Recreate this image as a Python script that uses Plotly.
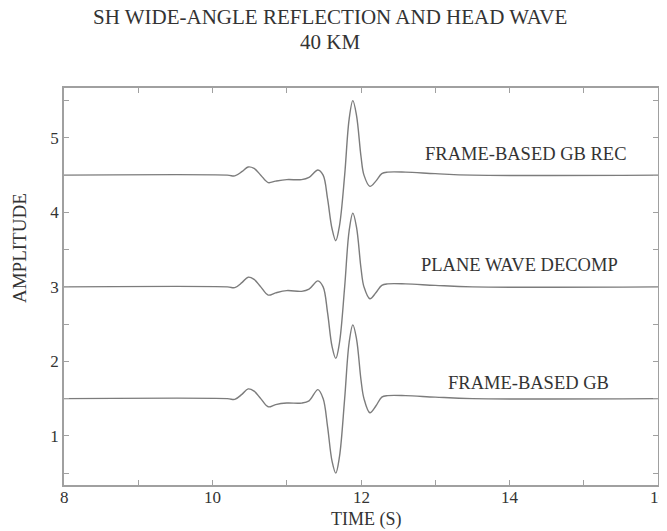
import plotly.graph_objects as go

# ---- data ----
time_s = [8.0, 10.2, 10.3, 10.4, 10.48, 10.56, 10.65, 10.75, 10.85, 11.0, 11.2, 11.3,
          11.42, 11.49, 11.55, 11.61, 11.66, 11.71, 11.78, 11.84, 11.89, 11.94, 12.0,
          12.04, 12.12, 12.2, 12.28, 12.36, 12.6, 13.0, 13.5, 16.0]

# amplitudes relative to each trace's baseline
gb_rec = [0.0, 0.0, -0.01, 0.05, 0.11, 0.09, 0.0, -0.10, -0.08, -0.06, -0.06, -0.03,
          0.07, 0.0, -0.32, -0.72, -0.88, -0.68, 0.0, 0.75, 1.0, 0.8, 0.25,
          0.0, -0.15, -0.08, 0.02, 0.04, 0.04, 0.02, 0.0, 0.0]
pw_decomp = [0.0, 0.0, -0.01, 0.06, 0.13, 0.10, 0.0, -0.11, -0.08, -0.05, -0.06, -0.03,
             0.08, 0.0, -0.35, -0.80, -0.96, -0.75, 0.0, 0.75, 0.99, 0.8, 0.25,
             0.0, -0.16, -0.08, 0.02, 0.04, 0.04, 0.02, 0.0, 0.0]
gb = [0.0, 0.0, -0.01, 0.06, 0.13, 0.10, 0.0, -0.11, -0.08, -0.06, -0.06, -0.03,
      0.12, 0.0, -0.38, -0.84, -1.0, -0.78, 0.0, 0.75, 0.99, 0.8, 0.25,
      0.0, -0.19, -0.10, 0.02, 0.04, 0.04, 0.02, 0.0, 0.0]

trace_names = ["FRAME-BASED GB REC", "PLANE WAVE DECOMP", "FRAME-BASED GB"]
trace_values = [gb_rec, pw_decomp, gb]
baselines = [4.5, 3.0, 1.5]
label_x = [14.21, 14.14, 14.25]
label_y = [4.79, 3.29, 1.71]

x_tickvals = [8, 10, 12, 14, 16]
y_tickvals = [1, 2, 3, 4, 5]

title_lines = ["SH WIDE-ANGLE REFLECTION AND HEAD WAVE", "40 KM"]

FONT = "Liberation Serif, Times New Roman, serif"
TXT = "#333333"
AX = "#a0a0a0"

fig = go.Figure()
for name, vals, base in zip(trace_names, trace_values, baselines):
    fig.add_trace(go.Scatter(
        x=time_s, y=[base + v for v in vals], mode="lines", name=name,
        line=dict(color="#7c7c7c", width=1.4, shape="spline", smoothing=1.0),
        showlegend=False, hoverinfo="skip"))

for name, lx, ly in zip(trace_names, label_x, label_y):
    fig.add_annotation(x=lx, y=ly, text=name, showarrow=False,
                       font=dict(family=FONT, size=18.5, color=TXT))

# title lines
fig.add_annotation(x=0.448, y=1.179, xref="paper", yref="paper", text=title_lines[0],
                   showarrow=False, xanchor="center", yanchor="middle",
                   font=dict(family=FONT, size=21, color=TXT))
fig.add_annotation(x=0.448, y=1.116, xref="paper", yref="paper", text=title_lines[1],
                   showarrow=False, xanchor="center", yanchor="middle",
                   font=dict(family=FONT, size=21, color=TXT))
# axis titles
fig.add_annotation(x=0.51, y=-0.088, xref="paper", yref="paper", text="TIME (S)",
                   showarrow=False, xanchor="center", yanchor="middle",
                   font=dict(family=FONT, size=18, color=TXT))
fig.add_annotation(x=-0.074, y=0.597, xref="paper", yref="paper", text="AMPLITUDE",
                   showarrow=False, xanchor="center", yanchor="middle", textangle=-90,
                   font=dict(family=FONT, size=19, color=TXT))
# x tick labels as annotations so the last one is never clipped
for tv in x_tickvals:
    fig.add_annotation(x=tv, y=0, xref="x", yref="paper", text=str(tv),
                       showarrow=False, xanchor="center", yanchor="top", yshift=-1,
                       font=dict(family=FONT, size=17, color=TXT))

fig.update_layout(
    width=659, height=523,
    margin=dict(l=56, r=9, t=80, b=46, autoexpand=False),
    paper_bgcolor="white", plot_bgcolor="white",
    font=dict(family=FONT, size=17, color=TXT),
)
fig.update_xaxes(
    range=[8, 16], tickvals=x_tickvals, showticklabels=False,
    ticks="inside", ticklen=5, tickcolor=AX, showline=True, linecolor=AX, linewidth=1.5,
    mirror="ticks", showgrid=False, zeroline=False,
    minor=dict(dtick=1, ticks="inside", ticklen=5, tickcolor=AX, showgrid=False))
fig.update_yaxes(
    range=[0.34, 5.67], tickvals=y_tickvals, ticktext=[str(v) for v in y_tickvals],
    ticks="inside", ticklen=5, tickcolor=AX, showline=True, linecolor=AX, linewidth=1.5,
    mirror="ticks", showgrid=False, zeroline=False,
    minor=dict(dtick=0.5, tick0=0, ticks="inside", ticklen=5, tickcolor=AX, showgrid=False),
    tickfont=dict(family=FONT, size=17, color=TXT))

fig.write_html("out.html")
